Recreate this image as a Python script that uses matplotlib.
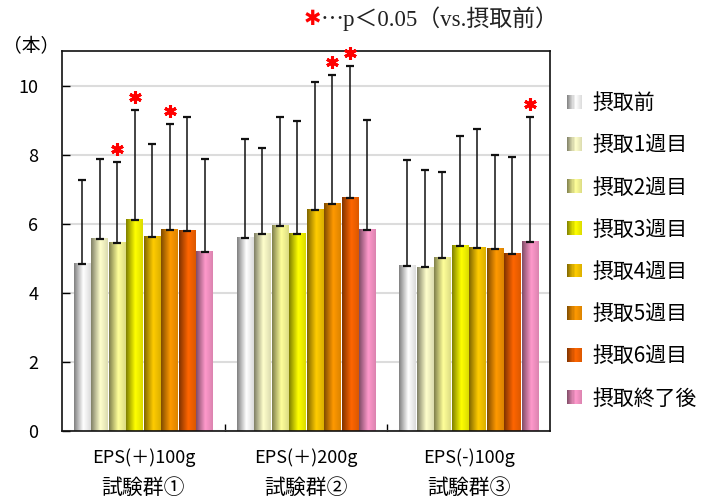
import numpy as np
import matplotlib
matplotlib.use("Agg")
import matplotlib.pyplot as plt
from matplotlib.colors import LinearSegmentedColormap, to_rgb
from matplotlib.patches import Rectangle
from matplotlib.legend_handler import HandlerBase

plt.rcParams['font.family'] = ['Noto Sans CJK JP', 'DejaVu Sans']

# ---------------- data ----------------
groups = ['EPS(＋)100g', 'EPS(＋)200g', 'EPS(-)100g']
group_names = ['試験群①', '試験群②', '試験群③']
series = ['摂取前', '摂取1週目', '摂取2週目', '摂取3週目',
          '摂取4週目', '摂取5週目', '摂取6週目', '摂取終了後']

mean_pre = [4.84, 5.59, 4.78]
mean_w1 = [5.57, 5.71, 4.74]
mean_w2 = [5.45, 5.94, 5.01]
mean_w3 = [6.12, 5.71, 5.36]
mean_w4 = [5.62, 6.41, 5.30]
mean_w5 = [5.83, 6.58, 5.27]
mean_w6 = [5.80, 6.75, 5.13]
mean_post = [5.19, 5.83, 5.48]

sd_pre = [2.42, 2.86, 3.06]
sd_w1 = [2.30, 2.47, 2.81]
sd_w2 = [2.35, 3.16, 2.49]
sd_w3 = [3.18, 3.26, 3.17]
sd_w4 = [2.69, 3.68, 3.44]
sd_w5 = [3.07, 3.72, 2.72]
sd_w6 = [3.28, 3.82, 2.80]
sd_post = [2.67, 3.17, 3.62]

sig_pre = [0, 0, 0]
sig_w1 = [0, 0, 0]
sig_w2 = [1, 0, 0]
sig_w3 = [1, 0, 0]
sig_w4 = [0, 0, 0]
sig_w5 = [1, 1, 0]
sig_w6 = [0, 1, 0]
sig_post = [0, 0, 1]

means = [mean_pre, mean_w1, mean_w2, mean_w3, mean_w4, mean_w5, mean_w6, mean_post]
sds = [sd_pre, sd_w1, sd_w2, sd_w3, sd_w4, sd_w5, sd_w6, sd_post]
sigs = [sig_pre, sig_w1, sig_w2, sig_w3, sig_w4, sig_w5, sig_w6, sig_post]

yticks = [0, 2, 4, 6, 8, 10]

# ---------------- styles ----------------
light_colors = ['#ffffff', '#ffffcc', '#ffff99', '#ffff00',
                '#ffcc00', '#ff9900', '#ff6600', '#ff99cc']
dark_colors = ['#808080', '#808066', '#80804c', '#808000',
               '#806600', '#804c00', '#803300', '#804c66']


def make_cmap(dark, light):
    d = np.array(to_rgb(dark))
    l = np.array(to_rgb(light))
    r = 0.72 * l + 0.28 * d
    return LinearSegmentedColormap.from_list(
        'g', [(0.0, d), (0.55, l), (1.0, r)])


cmaps = [make_cmap(d, l) for d, l in zip(dark_colors, light_colors)]
grad = np.linspace(0, 1, 64)[np.newaxis, :]

fig = plt.figure(figsize=(7.02, 5.0), dpi=100)
ax = fig.add_axes([62 / 702, 69 / 500, 488 / 702, 380 / 500])

n = len(series)
pitch = 0.1076
bw = 0.101
x = np.arange(len(groups))

for k in range(n):
    xs = x + (k - (n - 1) / 2) * pitch
    bars = ax.bar(xs, means[k], bw, color='none', edgecolor='none', zorder=2)
    for b in bars:
        x0, y0 = b.get_x(), b.get_y()
        ax.imshow(grad, cmap=cmaps[k], extent=[x0, x0 + b.get_width(), y0, y0 + b.get_height()],
                  aspect='auto', interpolation='bilinear', zorder=2)
    ax.errorbar(xs, means[k], yerr=[np.zeros(len(groups)), sds[k]], fmt='none',
                ecolor='#111111', elinewidth=1.1, capsize=3, capthick=1.6, zorder=3)
    for i in range(len(groups)):
        if sigs[k][i]:
            ax.plot(xs[i], means[k][i] + sds[k][i] + 0.37, marker=(6, 2, 0), color='#ff0000',
                    markersize=9, markeredgewidth=2.2, zorder=4, clip_on=False)

ax.set_xlim(-0.5, 2.5)
ax.set_ylim(0, 11)
ax.set_yticks(yticks)
ax.set_yticklabels([str(t) for t in yticks])
ax.tick_params(axis='y', direction='in', length=6, width=1, labelsize=13, pad=17)
ax.set_xticks([0.5, 1.5])
ax.set_xticklabels([])
ax.tick_params(axis='x', direction='in', length=5, width=1)
ax.yaxis.grid(True, color='#dcdcdc', linewidth=1.5, zorder=0)
ax.set_axisbelow(True)
for s in ax.spines.values():
    s.set_color('#111111')
    s.set_linewidth(1.2)

# group labels
for i in range(len(groups)):
    ax.text(x[i], -27 / 380 * 11, groups[i], ha='center', va='center', fontsize=13)
    ax.text(x[i], -57 / 380 * 11, group_names[i], ha='center', va='center', fontsize=15)

# unit label
fig.text(31 / 702, 1 - 47 / 500, '（本）', ha='center', va='center', fontsize=13.5)

# note at top
fig.text(312 / 702, 1 - 19 / 500, '✱', ha='center', va='center', fontsize=15,
         color='#ff0000', family=['DejaVu Sans'], fontweight='bold')
fig.text(321 / 702, 1 - 19 / 500, '⋯p＜0.05（vs.摂取前）', ha='left', va='center', fontsize=16.5,
         family=['Liberation Serif', 'Noto Sans CJK JP'], color='#222222')


class GradHandler(HandlerBase):
    def __init__(self, cmap):
        super().__init__()
        self.cmap = cmap

    def create_artists(self, legend, orig_handle, xdescent, ydescent, width, height, fontsize, trans):
        arts = []
        N = 14
        w = 11.0
        h = 10.0
        x0 = -xdescent + 0
        y0 = -ydescent + (height - h) / 2
        for j in range(N):
            c = self.cmap((j + 0.5) / N)
            arts.append(Rectangle((x0 + j * w / N, y0), w / N + 0.05, h, facecolor=c,
                                  edgecolor='none', transform=trans))
        return arts


handles = [Rectangle((0, 0), 1, 1) for _ in series]
leg = ax.legend(handles, series, loc='upper left', bbox_to_anchor=(567 / 702, 1 - 92 / 500),
                bbox_transform=fig.transFigure, frameon=False, fontsize=15,
                handler_map={h: GradHandler(c) for h, c in zip(handles, cmaps)},
                handlelength=0.7, handletextpad=0.5, labelspacing=0.97, borderpad=0,
                borderaxespad=0)

fig.savefig('out.png', dpi=100)
